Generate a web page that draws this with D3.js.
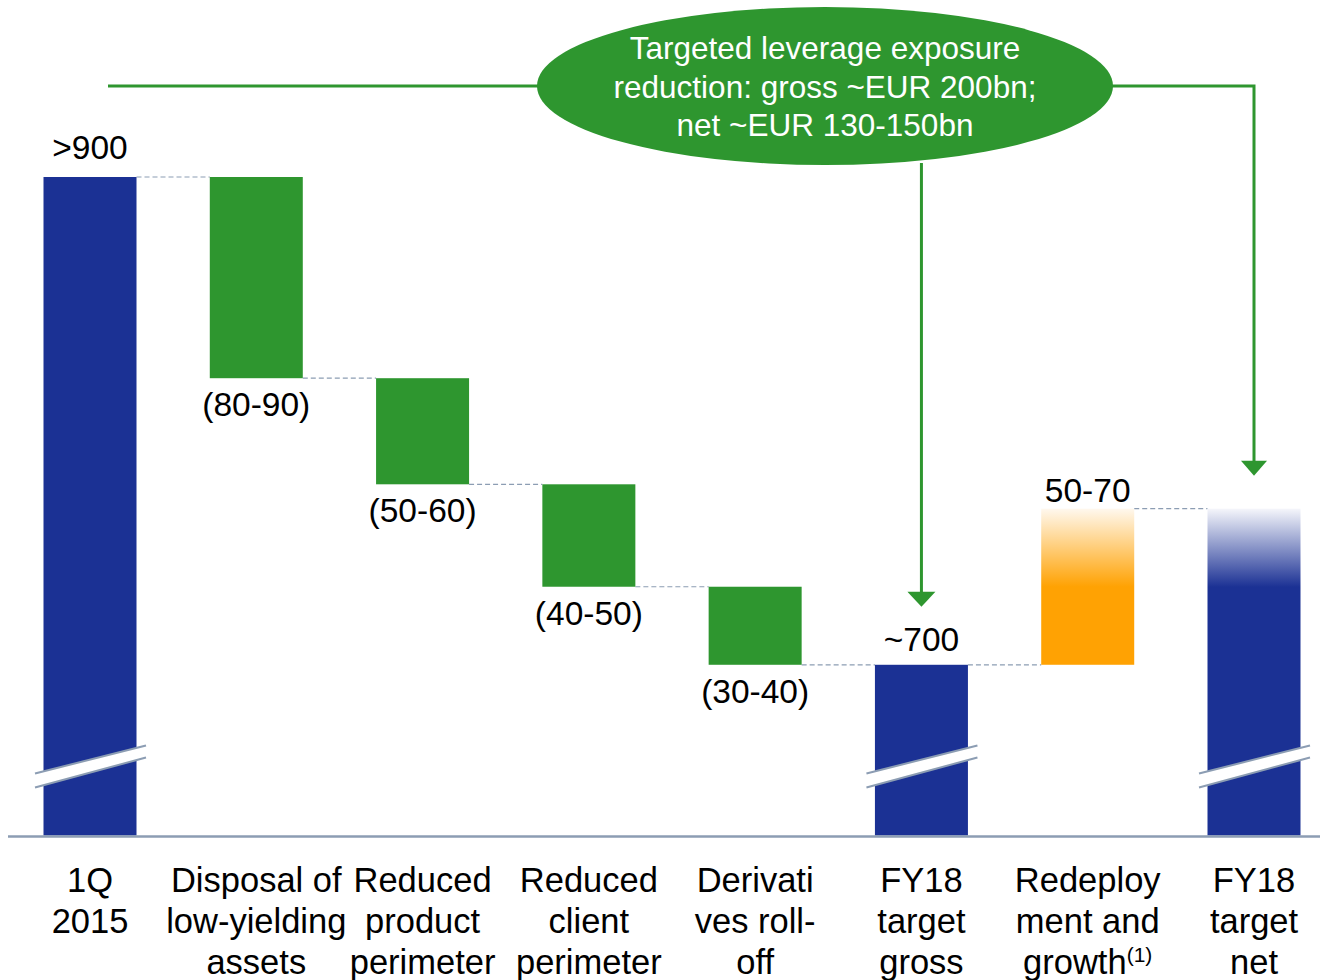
<!DOCTYPE html>
<html>
<head>
<meta charset="utf-8">
<script src="https://cdn.jsdelivr.net/npm/d3@7"></script>
<style>
  html, body { margin: 0; padding: 0; background: #ffffff; }
  svg { display: block; font-family: "Liberation Sans", Arial, Helvetica, sans-serif; }
</style>
</head>
<body>
<svg id="chart" width="1320" height="980"></svg>
<script>
// ---------- data ----------
const categories = ["1Q 2015", "Disposal of low-yielding assets", "Reduced product perimeter",
  "Reduced client perimeter", "Derivatives roll-off", "FY18 target gross",
  "Redeployment and growth", "FY18 target net"];
const categoryLines = [
  ["1Q", "2015"],
  ["Disposal of", "low-yielding", "assets"],
  ["Reduced", "product", "perimeter"],
  ["Reduced", "client", "perimeter"],
  ["Derivati", "ves roll-", "off"],
  ["FY18", "target", "gross"],
  ["Redeploy", "ment and", "growth"],
  ["FY18", "target", "net"]
];
const kinds = ["total", "decrease", "decrease", "decrease", "decrease", "total", "increase", "total"];
const values = [900, -82.5, -43.5, -42, -32, 700, 64, 764];
const valueLabels = [">900", "(80-90)", "(50-60)", "(40-50)", "(30-40)", "~700", "50-70", ""];
const calloutLines = ["Targeted leverage exposure", "reduction: gross ~EUR 200bn;", "net ~EUR 130-150bn"];
const footnoteMark = "(1)";
const axisBreakValue = 630;

// ---------- styles ----------
const BLUE = "#1b3194", GREEN = "#2e962f", ORANGE = "#ffa203";
const GRID = "#8c9db3";

const svg = d3.select("#chart");
const defs = svg.append("defs");
const gOr = defs.append("linearGradient").attr("id", "gradOrange").attr("x1", 0).attr("y1", 0).attr("x2", 0).attr("y2", 1);
gOr.append("stop").attr("offset", 0).attr("stop-color", "#fff8ee");
gOr.append("stop").attr("offset", 0.5).attr("stop-color", ORANGE);
gOr.append("stop").attr("offset", 1).attr("stop-color", ORANGE);
const gBl = defs.append("linearGradient").attr("id", "gradBlue").attr("x1", 0).attr("y1", 0).attr("x2", 0).attr("y2", 1);
gBl.append("stop").attr("offset", 0).attr("stop-color", "#f5f6fb");
gBl.append("stop").attr("offset", 0.24).attr("stop-color", BLUE);
gBl.append("stop").attr("offset", 1).attr("stop-color", BLUE);

// ---------- compute waterfall ----------
let running = 0;
const bars = values.map((v, i) => {
  let lo, hi;
  if (kinds[i] === "total") { running = v; lo = axisBreakValue; hi = v; }
  else { const s = running; running = s + v; lo = Math.min(s, running); hi = Math.max(s, running); }
  return { i, cat: categories[i], kind: kinds[i], lo, hi, end: running, label: valueLabels[i] };
});

// ---------- scales ----------
const x = d3.scalePoint().domain(categories).range([90, 1254]);
const y = d3.scaleLinear().domain([axisBreakValue, 900]).range([835.5, 177]);
const barW = 93;

// connectors
for (let i = 0; i < bars.length - 1; i++) {
  const b = bars[i], n = bars[i + 1];
  const level = b.kind === "total" ? b.hi : b.end;
  svg.append("line")
    .attr("x1", x(b.cat) + barW / 2).attr("x2", x(n.cat) - barW / 2)
    .attr("y1", y(level)).attr("y2", y(level))
    .attr("stroke", GRID).attr("stroke-width", 1.2).attr("stroke-dasharray", "5,3");
}

// bars
svg.selectAll("rect.bar").data(bars).join("rect")
  .attr("class", "bar")
  .attr("x", d => x(d.cat) - barW / 2)
  .attr("width", barW)
  .attr("y", d => y(d.hi))
  .attr("height", d => y(d.lo) - y(d.hi))
  .attr("fill", d => d.kind === "decrease" ? GREEN :
    d.kind === "increase" ? "url(#gradOrange)" :
    (d.i === bars.length - 1 ? "url(#gradBlue)" : BLUE));

// axis breaks on totals
const baseY = y(axisBreakValue);
bars.filter(d => d.kind === "total").forEach(d => {
  const cx = x(d.cat);
  const x1 = cx - 55, x2 = cx + 56;
  const u1 = baseY - 62, u2 = baseY - 90, l1 = baseY - 48, l2 = baseY - 78;
  svg.append("path")
    .attr("d", `M${x1},${u1} L${x2},${u2} L${x2},${l2} L${x1},${l1} Z`)
    .attr("fill", "#ffffff");
  svg.append("line").attr("x1", x1).attr("y1", u1).attr("x2", x2).attr("y2", u2)
    .attr("stroke", GRID).attr("stroke-width", 2);
  svg.append("line").attr("x1", x1).attr("y1", l1).attr("x2", x2).attr("y2", l2)
    .attr("stroke", GRID).attr("stroke-width", 2);
});

// baseline
svg.append("line").attr("x1", 8).attr("x2", 1320).attr("y1", baseY + 1).attr("y2", baseY + 1)
  .attr("stroke", GRID).attr("stroke-width", 2.5);

// value labels
const aboveGap = { 0: 18, 5: 14, 6: 7 };
bars.forEach(d => {
  if (!d.label) return;
  const yy = d.kind === "decrease" ? y(d.lo) + 38 : y(d.hi) - (aboveGap[d.i] || 12);
  svg.append("text").attr("x", x(d.cat)).attr("y", yy)
    .attr("text-anchor", "middle").attr("font-size", 33.5).attr("fill", "#000")
    .text(d.label);
});

// category labels
const xAxisG = svg.append("g");
categories.forEach((c, i) => {
  const t = xAxisG.append("text").attr("x", x(c)).attr("y", 892)
    .attr("text-anchor", "middle").attr("font-size", 34.5).attr("fill", "#000");
  categoryLines[i].forEach((ln, k) => {
    const ts = t.append("tspan").attr("x", x(c)).attr("y", 892 + 41 * k).text(ln);
    if (kinds[i] === "increase" && k === categoryLines[i].length - 1) {
      t.append("tspan").attr("font-size", 21).attr("dy", -12).text(footnoteMark);
    }
  });
  if (kinds[i] === "increase") t.attr("transform", `translate(${0},0)`);
});

// callout ellipse
const ell = { cx: 825, cy: 86, rx: 288, ry: 79 };
// left line
svg.append("line").attr("x1", 108).attr("x2", ell.cx - ell.rx + 2).attr("y1", ell.cy).attr("y2", ell.cy)
  .attr("stroke", GREEN).attr("stroke-width", 3);
// right line to net bar
const netX = x(categories[7]);
const netTop = y(bars[7].hi);
svg.append("path")
  .attr("d", `M${ell.cx + ell.rx - 2},${ell.cy} H${netX} V${netTop - 46}`)
  .attr("fill", "none").attr("stroke", GREEN).attr("stroke-width", 3);
svg.append("path")
  .attr("d", `M${netX - 13},${netTop - 48} L${netX + 13},${netTop - 48} L${netX},${netTop - 33} Z`)
  .attr("fill", GREEN);
// middle line to gross bar
const grossX = x(categories[5]);
const grossTop = y(bars[5].hi);
svg.append("line").attr("x1", grossX).attr("x2", grossX)
  .attr("y1", ell.cy + ell.ry - 2).attr("y2", grossTop - 72)
  .attr("stroke", GREEN).attr("stroke-width", 3);
svg.append("path")
  .attr("d", `M${grossX - 14},${grossTop - 73} L${grossX + 14},${grossTop - 73} L${grossX},${grossTop - 58} Z`)
  .attr("fill", GREEN);

svg.append("ellipse").attr("cx", ell.cx).attr("cy", ell.cy).attr("rx", ell.rx).attr("ry", ell.ry)
  .attr("fill", GREEN);
calloutLines.forEach((ln, k) => {
  svg.append("text").attr("x", ell.cx).attr("y", 59 + 38.5 * k)
    .attr("text-anchor", "middle").attr("font-size", 31.5).attr("fill", "#ffffff")
    .text(ln);
});
</script>
</body>
</html>
